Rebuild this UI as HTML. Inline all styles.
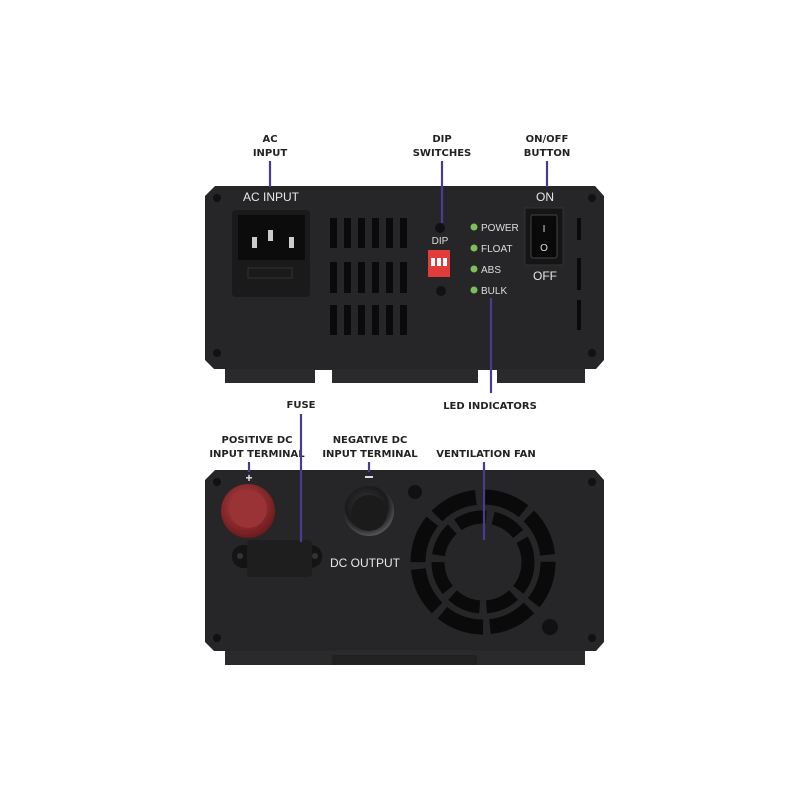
<!DOCTYPE html>
<html><head><meta charset="utf-8"><style>
html,body{margin:0;padding:0;background:#fff;}
svg{display:block;}
.lb{font-family:"DejaVu Sans","Liberation Sans",sans-serif;font-weight:bold;font-size:10px;fill:#222;text-anchor:middle;}
.pt{font-family:"Liberation Sans",sans-serif;font-size:12px;fill:#e8e8e8;}
.sm{font-family:"Liberation Sans",sans-serif;font-size:10px;fill:#ddd;}
</style></head><body>
<svg width="800" height="800" viewBox="0 0 800 800" xmlns="http://www.w3.org/2000/svg">
<rect width="800" height="800" fill="#fff"/>
<defs>
<radialGradient id="red" cx="45%" cy="40%" r="60%"><stop offset="0" stop-color="#b8474a"/><stop offset="1" stop-color="#6e1a1d"/></radialGradient>
<radialGradient id="blk" cx="45%" cy="40%" r="60%"><stop offset="0" stop-color="#3a3a3a"/><stop offset="0.7" stop-color="#1a1a1a"/><stop offset="1" stop-color="#555"/></radialGradient>
</defs>

<!-- TOP PANEL -->
<path d="M225 368 H585 V383 H225 Z" fill="#2a2a2c"/>
<rect x="315" y="370" width="17" height="13" fill="#fff"/>
<rect x="478" y="370" width="19" height="13" fill="#fff"/>
<path d="M215 186 H595 L604 196 V360 L596 369 H214 L205 360 V196 Z" fill="#262628"/>
<text x="243" y="201" class="pt">AC INPUT</text>
<rect x="232" y="210" width="78" height="87" rx="4" fill="#1a1a1b"/>
<rect x="238" y="215" width="67" height="45" fill="#0c0c0c"/>
<rect x="252" y="237" width="5" height="11" fill="#ccc"/><rect x="268" y="230" width="5" height="11" fill="#ccc"/><rect x="289" y="237" width="5" height="11" fill="#ccc"/>
<rect x="248" y="268" width="44" height="10" fill="none" stroke="#333"/>
<g fill="#0a0a0a">
<rect x="330" y="218" width="7" height="30"/><rect x="344" y="218" width="7" height="30"/><rect x="358" y="218" width="7" height="30"/><rect x="372" y="218" width="7" height="30"/><rect x="386" y="218" width="7" height="30"/><rect x="400" y="218" width="7" height="30"/>
<rect x="330" y="262" width="7" height="31"/><rect x="344" y="262" width="7" height="31"/><rect x="358" y="262" width="7" height="31"/><rect x="372" y="262" width="7" height="31"/><rect x="386" y="262" width="7" height="31"/><rect x="400" y="262" width="7" height="31"/>
<rect x="330" y="305" width="7" height="30"/><rect x="344" y="305" width="7" height="30"/><rect x="358" y="305" width="7" height="30"/><rect x="372" y="305" width="7" height="30"/><rect x="386" y="305" width="7" height="30"/><rect x="400" y="305" width="7" height="30"/>
<rect x="577" y="218" width="4" height="22"/><rect x="577" y="258" width="4" height="32"/><rect x="577" y="300" width="4" height="30"/>
</g>
<circle cx="440" cy="228" r="5" fill="#111"/><circle cx="441" cy="291" r="5" fill="#111"/>
<text x="440" y="244" class="sm" text-anchor="middle">DIP</text>
<rect x="428" y="250" width="22" height="27" fill="#e33a3a"/>
<rect x="431" y="258" width="4" height="8" fill="#fff"/><rect x="437" y="258" width="4" height="8" fill="#fff"/><rect x="443" y="258" width="4" height="8" fill="#fff"/>
<g fill="#7fbf5a"><circle cx="474" cy="227" r="3.5"/><circle cx="474" cy="248" r="3.5"/><circle cx="474" cy="269" r="3.5"/><circle cx="474" cy="290" r="3.5"/></g>
<text x="481" y="231" class="sm">POWER</text><text x="481" y="252" class="sm">FLOAT</text><text x="481" y="273" class="sm">ABS</text><text x="481" y="294" class="sm">BULK</text>
<text x="545" y="201" class="pt" text-anchor="middle">ON</text>
<text x="545" y="280" class="pt" text-anchor="middle">OFF</text>
<rect x="525" y="208" width="38" height="57" fill="#151515" stroke="#333"/>
<rect x="531" y="215" width="26" height="43" rx="2" fill="#0a0a0a" stroke="#444"/>
<text x="544" y="232" class="sm" text-anchor="middle">I</text><text x="544" y="251" class="sm" text-anchor="middle">O</text>
<g fill="#111"><circle cx="217" cy="198" r="4"/><circle cx="592" cy="198" r="4"/><circle cx="217" cy="353" r="4"/><circle cx="592" cy="353" r="4"/></g>

<!-- top labels -->
<text x="270" y="142" class="lb">AC</text><text x="270" y="156" class="lb">INPUT</text>
<text x="442" y="142" class="lb">DIP</text><text x="442" y="156" class="lb">SWITCHES</text>
<text x="547" y="142" class="lb">ON/OFF</text><text x="547" y="156" class="lb">BUTTON</text>
<text x="490" y="409" class="lb">LED INDICATORS</text>
<g stroke="#4b3a8f" stroke-width="2.2">
<line x1="270" y1="161" x2="270" y2="187"/><line x1="442" y1="161" x2="442" y2="223"/><line x1="547" y1="161" x2="547" y2="187"/><line x1="491" y1="298" x2="491" y2="393"/>
</g>

<!-- BOTTOM PANEL -->
<path d="M225 650 H585 V665 H225 Z" fill="#2a2a2c"/>
<rect x="332" y="655" width="145" height="10" fill="#222"/>
<path d="M215 470 H595 L604 480 V642 L596 651 H214 L205 642 V480 Z" fill="#262628"/>
<circle cx="248" cy="511" r="27" fill="url(#red)"/>
<circle cx="248" cy="509" r="19" fill="#9a3336"/>
<circle cx="369" cy="511" r="25" fill="url(#blk)"/>
<circle cx="369" cy="513" r="18" fill="#1b1b1b"/>
<rect x="232" y="545" width="90" height="23" rx="11" fill="#141414"/>
<rect x="247" y="540" width="65" height="37" rx="4" fill="#1e1e1f"/>
<circle cx="240" cy="556" r="3" fill="#333"/><circle cx="315" cy="556" r="3" fill="#333"/>
<text x="330" y="567" class="pt">DC OUTPUT</text>
<g fill="none" stroke="#0a0a0a">
<circle cx="483" cy="562" r="65" stroke-width="15" stroke-dasharray="44 7"/>
<circle cx="483" cy="562" r="45" stroke-width="13" stroke-dasharray="30 7"/>
</g>
<g fill="#111"><circle cx="217" cy="482" r="4"/><circle cx="592" cy="482" r="4"/><circle cx="217" cy="638" r="4"/><circle cx="592" cy="638" r="4"/><circle cx="415" cy="492" r="7"/><circle cx="550" cy="627" r="8"/></g>
<text x="249" y="482" class="pt" text-anchor="middle" font-weight="bold">+</text>
<rect x="365" y="476" width="8" height="2" fill="#ddd"/>

<!-- bottom labels -->
<text x="301" y="408" class="lb">FUSE</text>
<text x="257" y="443" class="lb">POSITIVE DC</text><text x="257" y="457" class="lb">INPUT TERMINAL</text>
<text x="370" y="443" class="lb">NEGATIVE DC</text><text x="370" y="457" class="lb">INPUT TERMINAL</text>
<text x="486" y="457" class="lb">VENTILATION FAN</text>
<g stroke="#4b3a8f" stroke-width="2.2">
<line x1="301" y1="414" x2="301" y2="542"/><line x1="249" y1="462" x2="249" y2="472"/><line x1="369" y1="462" x2="369" y2="472"/><line x1="484" y1="462" x2="484" y2="540"/>
</g>
</svg>
</body></html>
